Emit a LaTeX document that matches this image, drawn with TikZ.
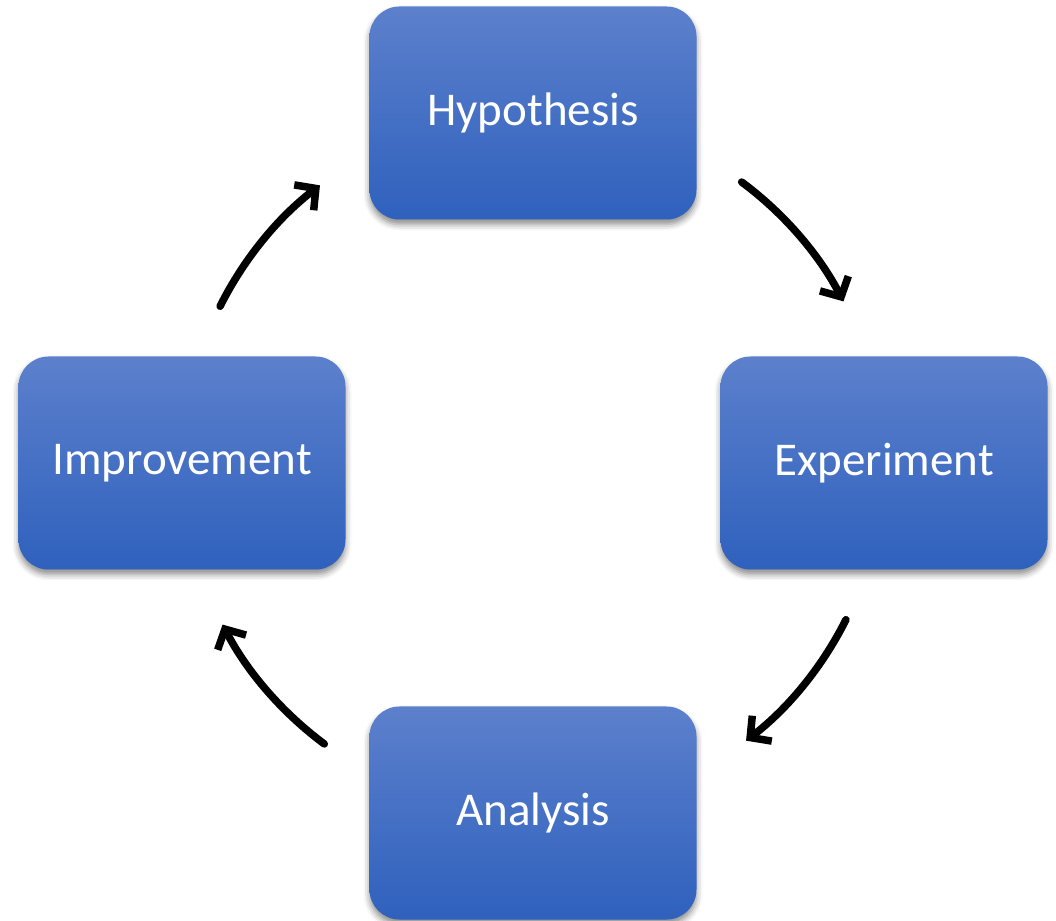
\documentclass[tikz,border=0pt]{standalone}
\usepackage{fontspec}
\setmainfont{Carlito}
\usetikzlibrary{arrows.meta,shadows.blur}
\definecolor{boxtop}{RGB}{92,128,204}
\definecolor{boxbot}{RGB}{47,97,189}
\tikzset{
  stagebox/.style={rounded corners=30pt, minimum width=327pt, minimum height=213pt,
    top color=boxtop, bottom color=boxbot, draw=none, text=white,
    font=\fontsize{47}{56}\selectfont,
    blur shadow={shadow xshift=0pt, shadow yshift=-5pt, shadow blur radius=6pt, shadow opacity=45}},
  cyclearrow/.style={line width=7.5pt, line cap=round, draw=black,
    -{Straight Barb[length=15pt,width=32pt,line width=7.5pt]}}
}
\begin{document}
\begin{tikzpicture}[x=1pt,y=1pt]
\useasboundingbox (0,0) rectangle (1056,920);
\coordinate (c) at (533,457);
\node[stagebox] (hyp) at (533,807) {Hypothesis};
\node[stagebox] (exp) at (884,457) {Experiment};
\node[stagebox] (imp) at (182,457) {Improvement};
\node[stagebox] (ana) at (533,107) {Analysis};
\draw[cyclearrow] ([shift={(53.4:350)}]c) arc[start angle=53.4, end angle=27.5, radius=350];
\draw[cyclearrow] ([shift={(-26.6:350)}]c) arc[start angle=-26.6, end angle=-52.5, radius=350];
\draw[cyclearrow] ([shift={(-126.6:350)}]c) arc[start angle=-126.6, end angle=-152.5, radius=350];
\draw[cyclearrow] ([shift={(153.4:350)}]c) arc[start angle=153.4, end angle=127.5, radius=350];
\end{tikzpicture}
\end{document}
